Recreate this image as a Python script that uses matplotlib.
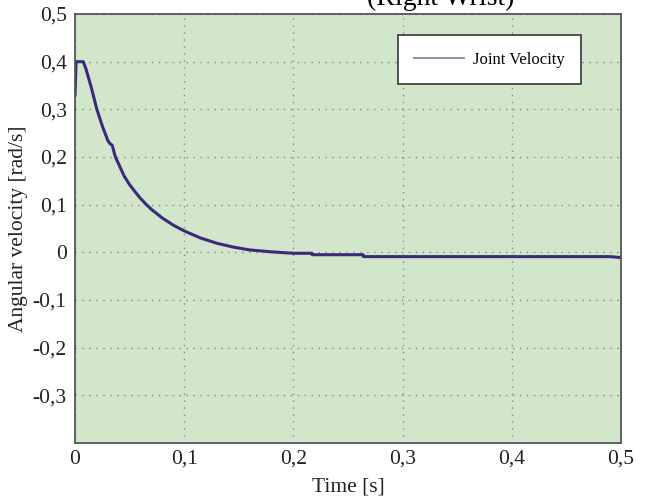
import matplotlib
matplotlib.use('Agg')
import matplotlib.pyplot as plt
from matplotlib.ticker import FuncFormatter

# joint velocity
time_s = [0, 0.001, 0.0076, 0.010, 0.015, 0.020, 0.025, 0.030, 0.032, 0.034, 0.037,
          0.045, 0.050, 0.055, 0.060, 0.065, 0.070, 0.080, 0.090, 0.100, 0.115,
          0.130, 0.145, 0.160, 0.180, 0.200, 0.217, 0.2171, 0.264, 0.2641, 0.49, 0.5]
velocity = [0.33, 0.40, 0.40, 0.385, 0.345, 0.30, 0.265, 0.235, 0.228, 0.225, 0.200,
            0.160, 0.142, 0.127, 0.113, 0.101, 0.090, 0.072, 0.057, 0.045, 0.030,
            0.019, 0.011, 0.005, 0.001, -0.002, -0.002, -0.005, -0.005, -0.009,
            -0.009, -0.011]

x_ticks = [0, 0.1, 0.2, 0.3, 0.4, 0.5]
y_ticks = [-0.3, -0.2, -0.1, 0, 0.1, 0.2, 0.3, 0.4, 0.5]

plt.rcParams['font.family'] = ['Liberation Serif', 'DejaVu Serif']

fig = plt.figure(figsize=(6.49, 5.01), dpi=100)
ax = fig.add_axes([0.1156, 0.1158, 0.8412, 0.8562])
ax.set_facecolor('#d2e6cc')

ax.plot(time_s, velocity, color='#3b2a78', linewidth=2.2, label='Joint Velocity')

ax.set_xlim(0, 0.5)
ax.set_ylim(-0.4, 0.5)
ax.set_xticks(x_ticks)
ax.set_yticks(y_ticks)

def comma(v, pos):
    if abs(v) < 1e-9:
        return '0'
    return ('%.1f' % v).replace('.', ',')

ax.xaxis.set_major_formatter(FuncFormatter(comma))
ax.yaxis.set_major_formatter(FuncFormatter(comma))
ax.tick_params(labelsize=15.5, length=0, colors='#222222')
ax.tick_params(axis='x', pad=5)
ax.tick_params(axis='y', pad=6)
ax.grid(True, linestyle=(0, (1, 4)), color='#888888', linewidth=1)

for s in ax.spines.values():
    s.set_color('#555555')
    s.set_linewidth(1.3)

ax.set_xlabel('Time [s]', fontsize=15.5, color='#222222', labelpad=6)
ax.set_ylabel('Angular velocity [rad/s]', fontsize=15.5, color='#222222', labelpad=3)

leg = ax.legend(loc='upper right', bbox_to_anchor=(0.927, 0.951), borderaxespad=0,
                fontsize=12, fancybox=False, framealpha=1, edgecolor='#444444',
                handlelength=3.0, handletextpad=0.5, borderpad=1.0)
leg.get_frame().set_linewidth(1.3)
for h in leg.get_lines():
    h.set_color('#8a80a0')
    h.set_linewidth(1.3)

# caption fragment clipped at the top edge
fig.text(0.5655, 1 - 5 / 501, '(Right Wrist)', fontsize=20, ha='left', va='baseline')

fig.savefig('out.png', dpi=100)
